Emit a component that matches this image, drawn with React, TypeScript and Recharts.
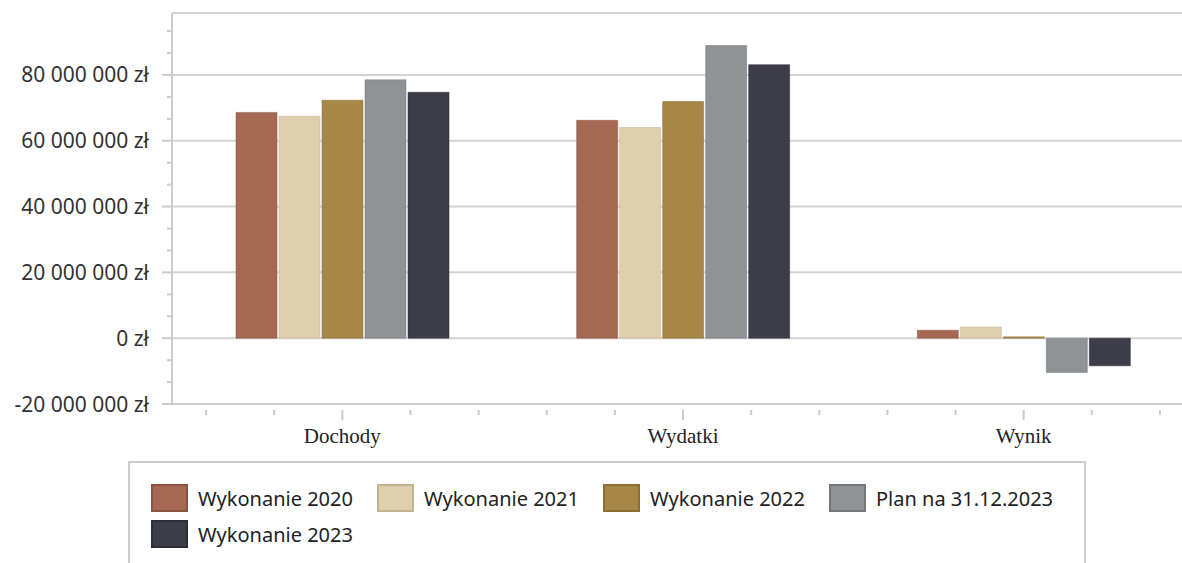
import React from 'react';
import {
  BarChart,
  Bar,
  XAxis,
  YAxis,
  CartesianGrid,
  ReferenceLine,
} from 'recharts';

// categories and series (values in zł)
const categories = ['Dochody', 'Wydatki', 'Wynik'];
const wykonanie2020 = [68600000, 66200000, 2400000];
const wykonanie2021 = [67400000, 64000000, 3400000];
const wykonanie2022 = [72300000, 71900000, 400000];
const plan2023 = [78500000, 88900000, -10400000];
const wykonanie2023 = [74700000, 83100000, -8400000];

const yTicks = [-20000000, 0, 20000000, 40000000, 60000000, 80000000];
const yMin = -20000000;
const yMax = 98800000;

const series = [
  { key: 'w2020', name: 'Wykonanie 2020', values: wykonanie2020, fill: '#a46853', stroke: '#8a5442' },
  { key: 'w2021', name: 'Wykonanie 2021', values: wykonanie2021, fill: '#decfae', stroke: '#c2b393' },
  { key: 'w2022', name: 'Wykonanie 2022', values: wykonanie2022, fill: '#a68748', stroke: '#8c6e34' },
  { key: 'plan', name: 'Plan na 31.12.2023', values: plan2023, fill: '#8f9395', stroke: '#75797c' },
  { key: 'w2023', name: 'Wykonanie 2023', values: wykonanie2023, fill: '#3c3d49', stroke: '#2c2d36' },
];

const data = categories.map((name, i) => {
  const row: Record<string, string | number> = { name };
  series.forEach((s) => {
    row[s.key] = s.values[i];
  });
  return row;
});

const AXIS = '#cccccc';
const SANS = '"Noto Sans", sans-serif';

// "80 000 000 zł"
const formatZl = (v: number) => {
  const sign = v < 0 ? '-' : '';
  const s = Math.abs(v).toString().replace(/\B(?=(\d{3})+(?!\d))/g, ' ');
  return `${sign}${s} zł`;
};

// y tick: label + major tick + two minor ticks above
const YTick = (props: any) => {
  const { x, y, payload } = props;
  const axisX = x + 23;
  const step = 65.7 / 3;
  return (
    <g>
      <text x={x} y={y} dy="0.36em" textAnchor="end" fill="#333" fontSize={21} fontFamily={SANS}>
        {formatZl(payload.value)}
      </text>
      <line x1={axisX - 10} x2={axisX} y1={y} y2={y} stroke={AXIS} strokeWidth={2} />
      <line x1={axisX - 5} x2={axisX} y1={y - step} y2={y - step} stroke={AXIS} strokeWidth={2} />
      <line x1={axisX - 5} x2={axisX} y1={y - 2 * step} y2={y - 2 * step} stroke={AXIS} strokeWidth={2} />
    </g>
  );
};

// x tick: category label + major tick and minor ticks across the band
const XTick = (props: any) => {
  const { x, y, payload } = props;
  const axisY = y - 2;
  const step = 340.7 / 5;
  return (
    <g>
      <line x1={x} x2={x} y1={axisY} y2={axisY + 10} stroke={AXIS} strokeWidth={2} />
      {[-2, -1, 1, 2].map((k) => (
        <line
          key={k}
          x1={x + k * step}
          x2={x + k * step}
          y1={axisY}
          y2={axisY + 5}
          stroke={AXIS}
          strokeWidth={2}
        />
      ))}
      <text x={x} y={axisY + 33} textAnchor="middle" fill="#222" fontSize={21} fontFamily='"Liberation Serif", serif'>
        {payload.value}
      </text>
    </g>
  );
};

const ChartLegend = () => (
  <div
    style={{
      position: 'absolute',
      left: 128,
      top: 461,
      width: 958,
      height: 140,
      border: `2px solid ${AXIS}`,
      boxSizing: 'border-box',
      padding: '21px 0 0 21px',
      display: 'flex',
      flexWrap: 'wrap',
      alignContent: 'flex-start',
      fontFamily: SANS,
      fontSize: 20,
      color: '#222',
    }}
  >
    {series.map((s) => (
      <div key={s.key} style={{ display: 'flex', alignItems: 'center', height: 36, width: 226 }}>
        <span
          style={{
            display: 'inline-block',
            flex: 'none',
            width: 37,
            height: 28,
            boxSizing: 'border-box',
            background: s.fill,
            border: `2px solid ${s.stroke}`,
            marginRight: 10,
            marginTop: -8,
          }}
        />
        <span style={{ marginTop: -8, whiteSpace: 'nowrap' }}>{s.name}</span>
      </div>
    ))}
  </div>
);

export default function App() {
  return (
    <div
      style={{
        position: 'fixed',
        left: 0,
        top: 0,
        width: 1182,
        height: 563,
        overflow: 'hidden',
        background: '#fff',
      }}
    >
      <BarChart
        width={1200}
        height={563}
        data={data}
        margin={{ top: 13, right: 6, left: 0, bottom: 119 }}
        barCategoryGap={64}
        barGap={2}
      >
        <CartesianGrid vertical={false} stroke="#d4d4d4" strokeWidth={2} />
        <ReferenceLine y={yMax} stroke="#d4d4d4" strokeWidth={2} />
        <XAxis
          dataKey="name"
          height={40}
          axisLine={{ stroke: AXIS, strokeWidth: 2 }}
          tickLine={false}
          tick={<XTick />}
          interval={0}
        />
        <YAxis
          width={172}
          domain={[yMin, yMax]}
          ticks={yTicks}
          allowDataOverflow
          axisLine={{ stroke: AXIS, strokeWidth: 2 }}
          tickLine={false}
          tickSize={10}
          tickMargin={13}
          tick={<YTick />}
        />
        {series.map((s) => (
          <Bar
            key={s.key}
            dataKey={s.key}
            name={s.name}
            fill={s.fill}
            stroke={s.stroke}
            strokeWidth={0.5}
            isAnimationActive={false}
          />
        ))}
      </BarChart>
      <ChartLegend />
    </div>
  );
}
